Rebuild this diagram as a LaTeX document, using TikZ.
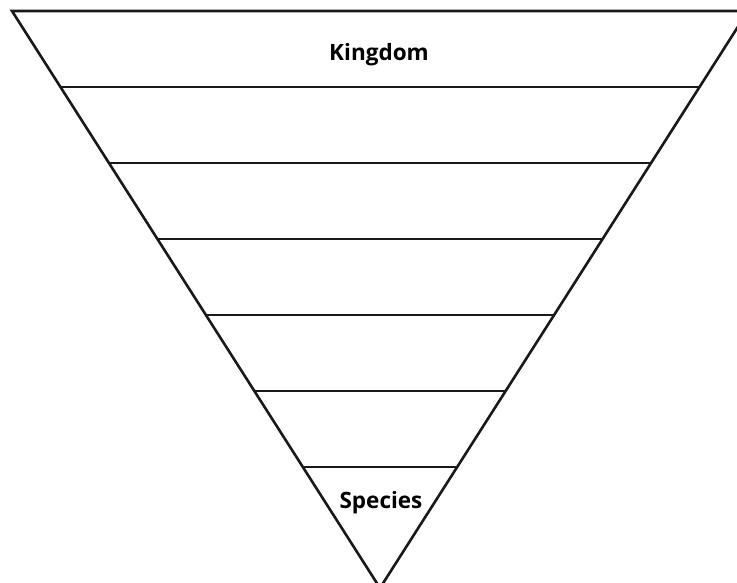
\documentclass[tikz,border=0pt]{standalone}
\usepackage{fontspec}
\setmainfont{Open Sans}[BoldFont={* Bold}]
\begin{document}
\begin{tikzpicture}[x=1pt,y=-1pt,
  edge/.style={line width=2.6pt,line join=miter,color=black!90},
  lbl/.style={font=\fontsize{22.5}{25}\selectfont\bfseries,inner sep=0pt,anchor=base}]
\useasboundingbox (0,0) rectangle (737,583);
\begin{scope}
\clip (0,0) rectangle (737,583);
\coordinate (tl) at (12,11);
\coordinate (tr) at (748,11);
\coordinate (ap) at (380,588);
\draw[edge] (tl) -- (tr) -- (ap) -- cycle;
\foreach \k in {1,...,6}{
  \pgfmathsetmacro{\yy}{11+76*\k}
  \pgfmathsetmacro{\hw}{0.63778*(577-76*\k)}
  \draw[edge] (380-\hw,\yy) -- (380+\hw,\yy);
}
\end{scope}
\node[lbl] (kingdom) at (379,61) {Kingdom};
\node[lbl] (species) at (381,508) {Species};
\end{tikzpicture}
\end{document}
